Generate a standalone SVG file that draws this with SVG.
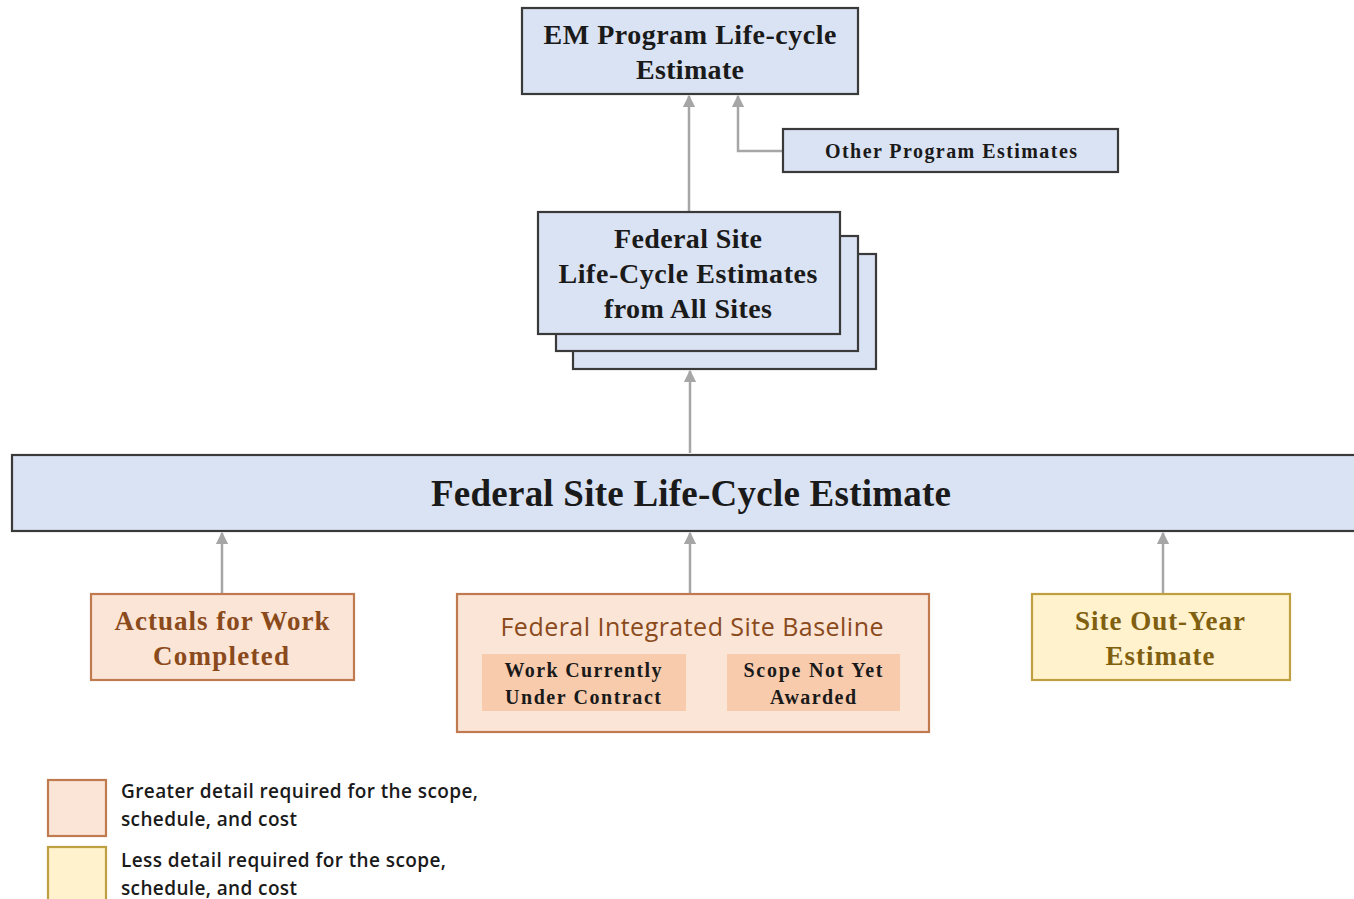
<svg xmlns="http://www.w3.org/2000/svg" width="1354" height="899" viewBox="0 0 1354 899">
<style>
.blue{fill:#dae3f3;stroke:#3a3a3a;stroke-width:2.2}
.ser{font-family:"Liberation Serif","Times New Roman",serif;font-weight:bold;text-anchor:middle}
.bk{fill:#1a1a1a}
.orange{fill:#fbe5d6;stroke:#c07a50;stroke-width:2.2}
.inner{fill:#f8cbad}
.yellow{fill:#fff2cc;stroke:#bfa040;stroke-width:2.2}
.brown{fill:#8a4a1c}
.olive{fill:#806010}
.conn{stroke:#a6a6a6;stroke-width:2.5;fill:none}
.leg{font-family:"Open Sans","Liberation Sans",sans-serif;font-weight:600;font-size:19px;fill:#1a1a1a}
</style>
<defs>
<marker id="ah" viewBox="0 0 10 10" refX="9" refY="5" markerWidth="5" markerHeight="5" orient="auto" markerUnits="strokeWidth">
<path d="M0,0 L10,5 L0,10 z" fill="#a6a6a6"/>
</marker>
</defs>
<g id="connectors">
<line class="conn" x1="689" y1="212" x2="689" y2="96" marker-end="url(#ah)"/>
<polyline class="conn" points="783,151 738,151 738,96" marker-end="url(#ah)"/>
<line class="conn" x1="690" y1="453" x2="690" y2="371" marker-end="url(#ah)"/>
<line class="conn" x1="222" y1="593" x2="222" y2="533" marker-end="url(#ah)"/>
<line class="conn" x1="690" y1="593" x2="690" y2="533" marker-end="url(#ah)"/>
<line class="conn" x1="1163" y1="593" x2="1163" y2="533" marker-end="url(#ah)"/>
</g>
<g id="em-program">
<rect class="blue" x="522" y="8" width="336" height="86"/>
<text class="ser bk" x="690" y="44" font-size="28" textLength="293">EM Program Life-cycle</text>
<text class="ser bk" x="690" y="79" font-size="28" textLength="108">Estimate</text>
</g>
<g id="other-program">
<rect class="blue" x="783" y="129" width="335" height="43"/>
<text class="ser bk" x="951" y="158" font-size="20" textLength="252">Other Program Estimates</text>
</g>
<g id="site-estimates-stack">
<rect class="blue" x="573" y="254" width="303" height="115"/>
<rect class="blue" x="556" y="236" width="302" height="115"/>
<rect class="blue" x="538" y="212" width="302" height="122"/>
<text class="ser bk" x="688" y="248" font-size="28" textLength="148">Federal Site</text>
<text class="ser bk" x="688" y="283" font-size="28" textLength="259">Life-Cycle Estimates</text>
<text class="ser bk" x="688" y="318" font-size="28" textLength="168">from All Sites</text>
</g>
<g id="federal-site-lce">
<rect class="blue" x="12" y="455" width="1350" height="76"/>
<text class="ser bk" x="691" y="506" font-size="37" textLength="520">Federal Site Life-Cycle Estimate</text>
</g>
<g id="actuals">
<rect class="orange" x="91" y="594" width="263" height="86"/>
<text class="ser brown" x="222" y="630" font-size="27" textLength="215">Actuals for Work</text>
<text class="ser brown" x="221" y="665" font-size="27" textLength="136">Completed</text>
</g>
<g id="fisb">
<rect class="orange" x="457" y="594" width="472" height="138"/>
<text x="692" y="636" font-family="'Open Sans','Liberation Sans',sans-serif" font-size="25" text-anchor="middle" fill="#8a4a1c" textLength="383">Federal Integrated Site Baseline</text>
<rect class="inner" x="482" y="654" width="204" height="57"/>
<text class="ser bk" x="583" y="677" font-size="20" textLength="157">Work Currently</text>
<text class="ser bk" x="583" y="704" font-size="20" textLength="156">Under Contract</text>
<rect class="inner" x="727" y="654" width="173" height="57"/>
<text class="ser bk" x="813" y="677" font-size="20" textLength="139">Scope Not Yet</text>
<text class="ser bk" x="813" y="704" font-size="20" textLength="86">Awarded</text>
</g>
<g id="out-year">
<rect class="yellow" x="1032" y="594" width="258" height="86"/>
<text class="ser olive" x="1160" y="630" font-size="27" textLength="170">Site Out-Year</text>
<text class="ser olive" x="1160" y="665" font-size="27" textLength="109">Estimate</text>
</g>
<g id="legend">
<rect class="orange" x="48" y="780" width="58" height="56"/>
<text class="leg" x="121" y="798" textLength="357">Greater detail required for the scope,</text>
<text class="leg" x="121" y="826" textLength="176">schedule, and cost</text>
<rect class="yellow" x="48" y="847" width="58" height="60"/>
<text class="leg" x="121" y="867" textLength="325">Less detail required for the scope,</text>
<text class="leg" x="121" y="895" textLength="176">schedule, and cost</text>
</g>
</svg>
